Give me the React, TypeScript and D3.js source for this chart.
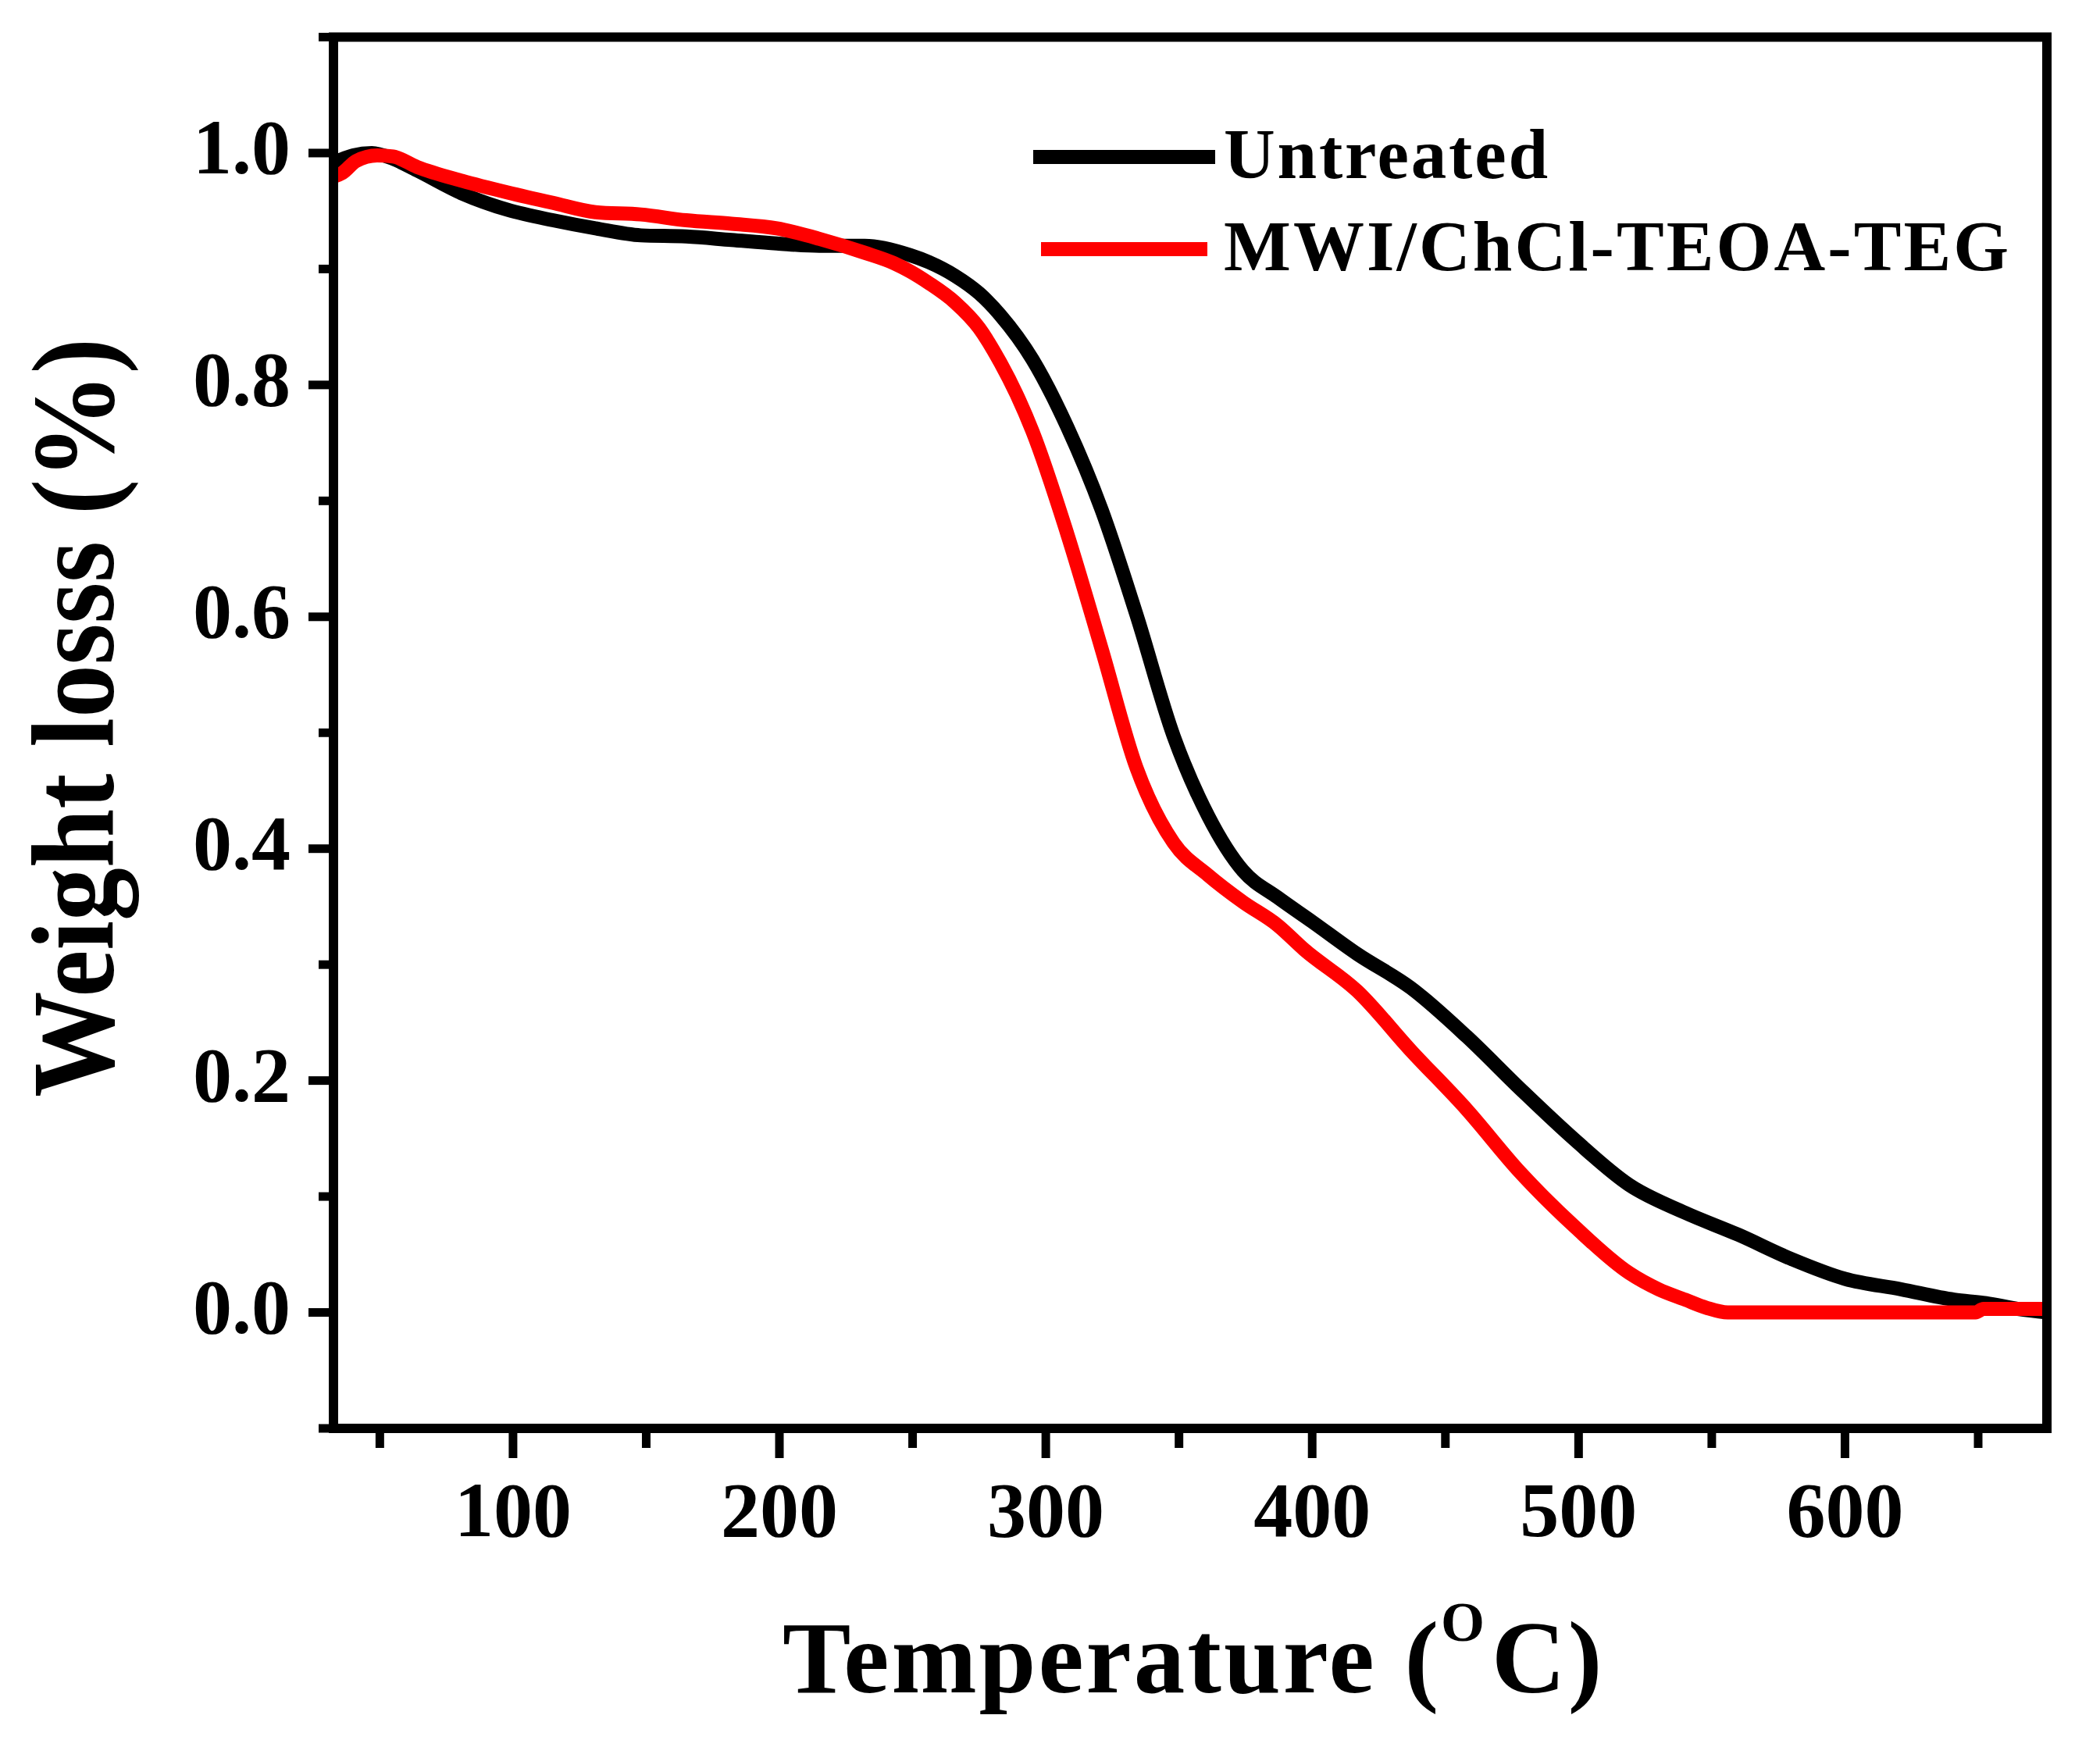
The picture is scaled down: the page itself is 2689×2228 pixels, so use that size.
import React, { useRef, useEffect } from "react";
import * as d3 from "d3";

// TGA curves (temperature in °C, weight fraction)
const tempUntreated = [
  33, 40, 47, 55, 64, 81, 98, 115, 131, 148, 165, 182, 199, 215, 232, 249,
  256, 266, 275, 283, 295, 308, 321, 334, 348, 361, 374, 387, 400, 417, 437,
  458, 478, 499, 519, 540, 560, 580, 600, 621, 641, 653, 665, 676,
];
const weightUntreated = [
  0.992, 0.998, 1.0, 0.995, 0.985, 0.965, 0.951, 0.942, 0.935, 0.929, 0.928,
  0.925, 0.922, 0.92, 0.92, 0.912, 0.906, 0.894, 0.879, 0.86, 0.822, 0.764,
  0.692, 0.602, 0.497, 0.428, 0.381, 0.358, 0.337, 0.309, 0.28, 0.238, 0.193,
  0.148, 0.11, 0.086, 0.067, 0.046, 0.029, 0.02, 0.011, 0.008, 0.003, 0.0,
];

const tempTreated = [
  33, 36, 41, 49, 55, 64, 81, 98, 115, 131, 148, 165, 182, 199, 215, 232,
  243, 249, 256, 266, 275, 283, 289, 295, 308, 321, 334, 348, 361, 374, 387,
  397, 417, 437, 458, 478, 499, 519, 530, 540, 548, 556, 570, 600, 630, 649,
  652, 676,
];
const weightTreated = [
  0.98, 0.983, 0.993, 0.998, 0.997, 0.988, 0.976, 0.966, 0.957, 0.949, 0.947,
  0.942, 0.939, 0.935, 0.926, 0.914, 0.905, 0.898, 0.888, 0.871, 0.849, 0.819,
  0.792, 0.76, 0.672, 0.572, 0.47, 0.405, 0.377, 0.354, 0.334, 0.313, 0.277,
  0.226, 0.175, 0.121, 0.073, 0.034, 0.02, 0.011, 0.004, 0.0, 0.0, 0.0, 0.0,
  0.0, 0.003, 0.003,
];

const seriesNames = ["Untreated", "MWI/ChCl-TEOA-TEG"];
const seriesColors = ["#000000", "#ff0000"];

const xMajorTicks = [100, 200, 300, 400, 500, 600];
const xMinorTicks = [50, 150, 250, 350, 450, 550, 650];
const yMajorTicks = [0, 0.2, 0.4, 0.6, 0.8, 1.0];
const yMinorTicks = [-0.1, 0.1, 0.3, 0.5, 0.7, 0.9, 1.1];

const W = 2689;
const H = 2228;
const FONT = "'Liberation Serif', 'Times New Roman', serif";

const App: React.FC = () => {
  const svgRef = useRef<SVGSVGElement | null>(null);

  useEffect(() => {
    const svg = d3.select(svgRef.current);
    svg.selectAll("*").remove();

    const left = 427;
    const right = 2621;
    const top = 47.5;
    const bottom = 1829;

    const x = d3.scaleLinear().domain([32.6, 675.8]).range([left, right]);
    const y = d3.scaleLinear().domain([-0.1, 1.1]).range([bottom, top]);

    const line = d3
      .line<[number, number]>()
      .x((d) => x(d[0]))
      .y((d) => y(d[1]))
      .curve(d3.curveMonotoneX);

    const series = [
      d3.zip(tempUntreated, weightUntreated) as [number, number][],
      d3.zip(tempTreated, weightTreated) as [number, number][],
    ];

    const plot = svg.append("g");
    series.forEach((pts, i) => {
      plot
        .append("path")
        .attr("d", line(pts))
        .attr("fill", "none")
        .attr("stroke", seriesColors[i])
        .attr("stroke-width", 18)
        .attr("stroke-linejoin", "round");
    });

    // ticks
    const tickW = 11;
    const ax = svg.append("g").attr("stroke", "#000").attr("stroke-width", tickW);
    xMajorTicks.forEach((t) =>
      ax.append("line").attr("x1", x(t)).attr("x2", x(t)).attr("y1", bottom).attr("y2", bottom + 38)
    );
    xMinorTicks.forEach((t) =>
      ax.append("line").attr("x1", x(t)).attr("x2", x(t)).attr("y1", bottom).attr("y2", bottom + 25)
    );
    yMajorTicks.forEach((t) =>
      ax.append("line").attr("x1", left - 32).attr("x2", left).attr("y1", y(t)).attr("y2", y(t))
    );
    yMinorTicks.forEach((t) =>
      ax.append("line").attr("x1", left - 19).attr("x2", left).attr("y1", y(t)).attr("y2", y(t))
    );

    // frame
    svg
      .append("rect")
      .attr("x", left)
      .attr("y", top)
      .attr("width", right - left)
      .attr("height", bottom - top)
      .attr("fill", "none")
      .attr("stroke", "#000")
      .attr("stroke-width", 12);

    // tick labels
    const lab = svg
      .append("g")
      .attr("font-family", FONT)
      .attr("font-weight", "bold")
      .attr("font-size", 100)
      .attr("fill", "#000");
    xMajorTicks.forEach((t) =>
      lab.append("text").attr("x", x(t)).attr("y", 1967).attr("text-anchor", "middle").text(String(t))
    );
    yMajorTicks.forEach((t) =>
      lab
        .append("text")
        .attr("x", 372)
        .attr("y", y(t) + 26)
        .attr("text-anchor", "end")
        .text(t.toFixed(1))
    );

    // axis titles
    const xt = svg
      .append("text")
      .attr("x", 1002)
      .attr("y", 2167)
      .attr("font-family", FONT)
      .attr("font-weight", "bold")
      .attr("font-size", 131)
      .attr("letter-spacing", 3);
    xt.append("tspan").text("Temperature (");
    xt.append("tspan").attr("font-size", 72).attr("dy", -66).text("O");
    xt.append("tspan").attr("dy", 66).attr("dx", 6).text("C)");

    svg
      .append("text")
      .attr("transform", "translate(145,1405) rotate(-90)")
      .attr("font-family", FONT)
      .attr("font-weight", "bold")
      .attr("font-size", 150)
      .attr("textLength", 972)
      .attr("lengthAdjust", "spacingAndGlyphs")
      .text("Weight losss (%)");

    // legend
    const legY = [201, 319];
    const legX = [
      [1323, 1556],
      [1333, 1546],
    ];
    const legLen = [415, 1005];
    seriesNames.forEach((name, i) => {
      svg
        .append("line")
        .attr("x1", legX[i][0])
        .attr("x2", legX[i][1])
        .attr("y1", legY[i])
        .attr("y2", legY[i])
        .attr("stroke", seriesColors[i])
        .attr("stroke-width", 18);
      svg
        .append("text")
        .attr("x", 1567)
        .attr("y", legY[i] + 27)
        .attr("font-family", FONT)
        .attr("font-weight", "bold")
        .attr("font-size", 91)
        .attr("textLength", legLen[i])
        .attr("lengthAdjust", "spacing")
        .text(name);
    });
  }, []);

  return (
    <svg
      ref={svgRef}
      width={W}
      height={H}
      style={{ position: "absolute", left: 0, top: 0, background: "#fff" }}
    ></svg>
  );
};

export default App;
